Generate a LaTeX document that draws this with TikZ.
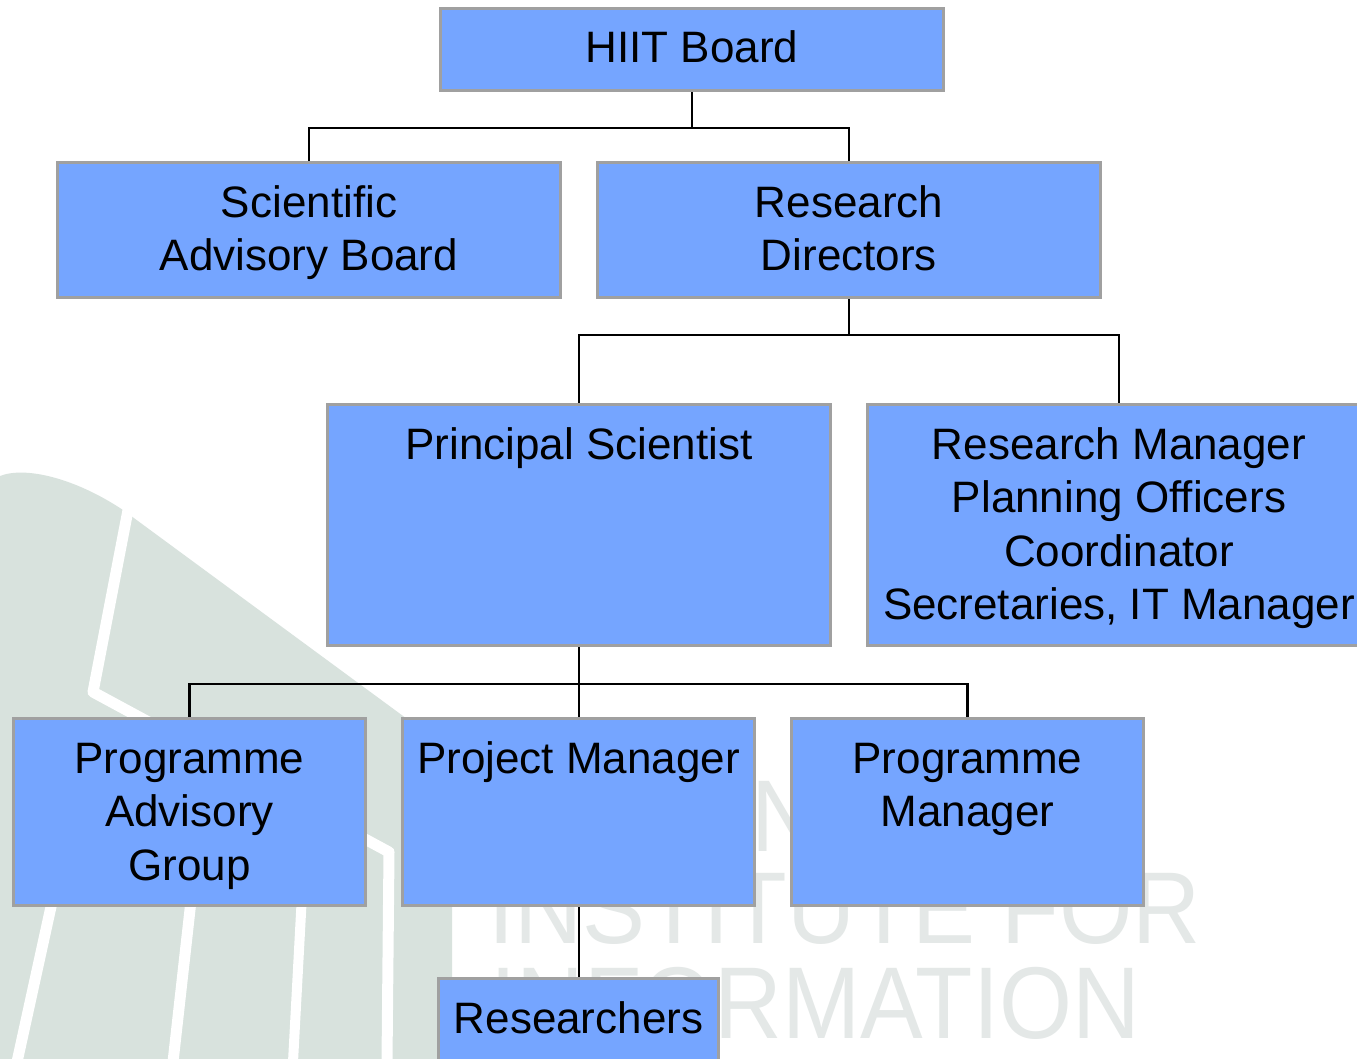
\documentclass[tikz,border=0pt]{standalone}
\usepackage{fontspec}
\setmainfont{Liberation Sans}
\definecolor{boxblue}{RGB}{117,165,255}
\definecolor{boxgrey}{RGB}{160,160,160}
\definecolor{wmshape}{RGB}{216,226,221}
\definecolor{wmtext}{RGB}{228,232,231}
\tikzset{
  orgbox/.style={rectangle, draw=boxgrey, line width=3pt, fill=boxblue, anchor=north west, inner sep=0pt},
  lbl/.style={anchor=north, inner sep=0pt, align=center, font=\fontsize{44}{53.5}\selectfont},
  conn/.style={draw=black, line width=2.8pt},
  wm/.style={anchor=base west, inner sep=0pt, text=wmtext, font=\fontsize{102}{102}\selectfont},
  stripe/.style={draw=white, line width=11pt, line join=round}
}
\newcommand{\firstline}{\rule{0pt}{40pt}}
\begin{document}
\begin{tikzpicture}[x=1pt, y=-1pt]
\useasboundingbox (0,0) rectangle (1357,1058);
\clip (0,0) rectangle (1357,1058);
\fill[white] (0,0) rectangle (1357,1058);
% watermark logo shape
\fill[wmshape] (0,476) .. controls (25,466) and (75,478) .. (123,510) -- (452,752) -- (452,1060) -- (0,1060) -- cycle;
\draw[stripe] (129,505) -- (93,692) -- (389,852) -- (387,1062);
\draw[stripe] (70,820) -- (17,1062);
\draw[stripe] (200,820) -- (173,1062);
\draw[stripe, line width=10pt] (306,820) -- (293,1062);
% watermark text
\node[wm] (wm1) at (480,851) {\scalebox{0.92}[1]{HELSINKI}};
\node[wm] (wm2) at (488,943) {\scalebox{0.925}[1]{INSTITUTE FOR}};
\node[wm] (wm3) at (490,1038) {\scalebox{0.92}[1]{INFORMATION}};
% boxes
\node[orgbox, minimum width=503pt, minimum height=82pt] (hiit) at (439,7) {};
\node[orgbox, minimum width=503pt, minimum height=135pt] (sab) at (56,161) {};
\node[orgbox, minimum width=503pt, minimum height=135pt] (rd) at (596,161) {};
\node[orgbox, minimum width=503pt, minimum height=241pt] (ps) at (326,403) {};
\node[orgbox, minimum width=503pt, minimum height=241pt] (rm) at (866,403) {};
\node[orgbox, minimum width=352pt, minimum height=187pt] (pag) at (12,717) {};
\node[orgbox, minimum width=352pt, minimum height=187pt] (pm) at (401,717) {};
\node[orgbox, minimum width=352pt, minimum height=187pt] (prm) at (790,717) {};
\node[orgbox, minimum width=280pt, minimum height=100pt] (res) at (437,977) {};
% labels
\path (hiit.north) ++(0,15) node[lbl] (hiit-t) {\firstline HIIT Board};
\path (sab.north) ++(0,16) node[lbl] (sab-t) {\firstline Scientific\\Advisory Board};
\path (rd.north) ++(0,16) node[lbl] (rd-t) {\firstline Research\\Directors};
\path (ps.north) ++(0,16) node[lbl] (ps-t) {\firstline Principal Scientist};
\path (rm.north) ++(0,16) node[lbl] (rm-t) {\firstline Research Manager\\Planning Officers\\Coordinator\\Secretaries, IT Manager};
\path (pag.north) ++(0,16) node[lbl] (pag-t) {\firstline Programme\\Advisory\\Group};
\path (pm.north) ++(0,16) node[lbl] (pm-t) {\firstline Project Manager};
\path (prm.north) ++(0,16) node[lbl] (prm-t) {\firstline Programme\\Manager};
\path (res.north) ++(0,16) node[lbl] (res-t) {\firstline Researchers};
% connectors
\draw[conn] (hiit.south) -- ++(0,36) -| (sab.north);
\draw[conn] (hiit.south) -- ++(0,36) -| (rd.north);
\draw[conn] (rd.south) -- ++(0,36) -| (ps.north);
\draw[conn] (rd.south) -- ++(0,36) -| (rm.north);
\draw[conn] (ps.south) -- ++(0,37) -| (pag.north);
\draw[conn] (ps.south) -- (ps.south |- pm.north);
\draw[conn] (ps.south) -- ++(0,37) -| (prm.north);
\draw[conn, line width=2pt] (pm.south) -- (pm.south |- res.north);
\end{tikzpicture}
\end{document}
